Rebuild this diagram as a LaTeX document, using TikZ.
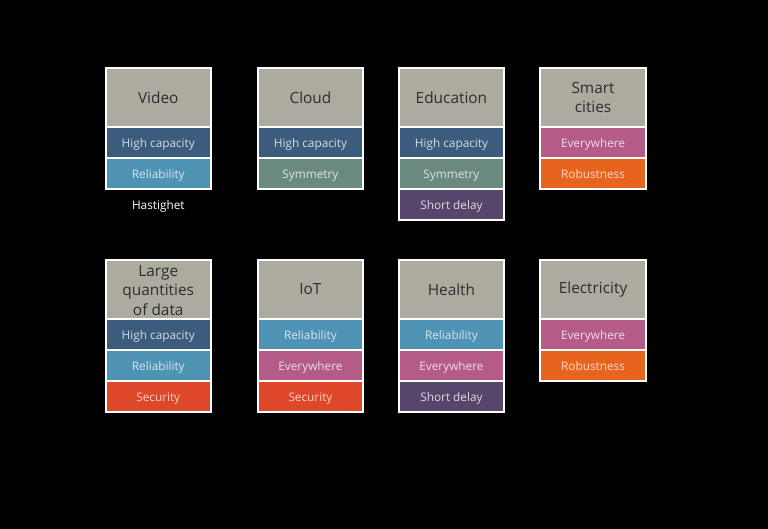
\documentclass[tikz,border=0pt]{standalone}
\usepackage{fontspec}
\setmainfont{Open Sans}
\definecolor{cgray}{HTML}{ADAAA0}
\definecolor{ctitle}{HTML}{2E2E2E}
\definecolor{cdblue}{HTML}{3B5C7D}
\definecolor{clblue}{HTML}{4E93B4}
\definecolor{csage}{HTML}{6A8A7D}
\definecolor{cpurple}{HTML}{56466B}
\definecolor{cpink}{HTML}{B45C87}
\definecolor{corange}{HTML}{E6641E}
\definecolor{cred}{HTML}{DE4828}
\tikzset{
  cardpart/.style={draw=white, line width=2pt, minimum width=105.5pt, inner sep=0pt, outer sep=0pt, align=center},
  ttl/.style={cardpart, anchor=north west, fill=cgray, minimum height=59pt, text=ctitle, font=\fontsize{15.4}{19.5}\selectfont},
  rowbox/.style={cardpart, anchor=north, minimum height=31pt, text height=10.4pt, text depth=0pt, font=\fontsize{11.8}{13}\selectfont},
  hicap/.style={rowbox, fill=cdblue, text=white!78!cdblue},
  relia/.style={rowbox, fill=clblue, text=white!78!clblue},
  symm/.style={rowbox, fill=csage, text=white!78!csage},
  shortd/.style={rowbox, fill=cpurple, text=white!80!cpurple},
  everyw/.style={rowbox, fill=cpink, text=white!78!cpink},
  robust/.style={rowbox, fill=corange, text=white!75!corange},
  secur/.style={rowbox, fill=cred, text=white!75!cred},
  note/.style={text=white, font=\fontsize{11.8}{13}\selectfont, inner sep=0pt, anchor=base}
}
\begin{document}
\begin{tikzpicture}[x=1pt,y=-1pt]
\fill[black] (0,0) rectangle (768,529);
\useasboundingbox (0,0) rectangle (768,529);
% top row
\node[ttl] (video) at (105.5,68) {Video};
\node[hicap] (video1) at (video.south) {High capacity};
\node[relia] (video2) at (video1.south) {Reliability};
\node[note] (hast) at (158.3,209.3) {Hastighet};

\node[ttl] (cloud) at (257.7,68) {Cloud};
\node[hicap] (cloud1) at (cloud.south) {High capacity};
\node[symm] (cloud2) at (cloud1.south) {Symmetry};

\node[ttl] (edu) at (398.7,68) {Education};
\node[hicap] (edu1) at (edu.south) {High capacity};
\node[symm] (edu2) at (edu1.south) {Symmetry};
\node[shortd] (edu3) at (edu2.south) {Short delay};

\node[ttl] (smart) at (540.3,68) {Smart\\cities};
\node[everyw] (smart1) at (smart.south) {Everywhere};
\node[robust] (smart2) at (smart1.south) {Robustness};
% bottom row
\node[ttl] (large) at (105.5,260) {\raisebox{-2.5pt}[\height][\depth]{\begin{tabular}{@{}c@{}}Large\\quantities\\of data\end{tabular}}};
\node[hicap] (large1) at (large.south) {High capacity};
\node[relia] (large2) at (large1.south) {Reliability};
\node[secur] (large3) at (large2.south) {Security};

\node[ttl] (iot) at (257.7,260) {IoT};
\node[relia] (iot1) at (iot.south) {Reliability};
\node[everyw] (iot2) at (iot1.south) {Everywhere};
\node[secur] (iot3) at (iot2.south) {Security};

\node[ttl] (health) at (398.7,260) {Health};
\node[relia] (health1) at (health.south) {Reliability};
\node[everyw] (health2) at (health1.south) {Everywhere};
\node[shortd] (health3) at (health2.south) {Short delay};

\node[ttl] (elec) at (540.3,260) {Electricity};
\node[everyw] (elec1) at (elec.south) {Everywhere};
\node[robust] (elec2) at (elec1.south) {Robustness};
\end{tikzpicture}
\end{document}
